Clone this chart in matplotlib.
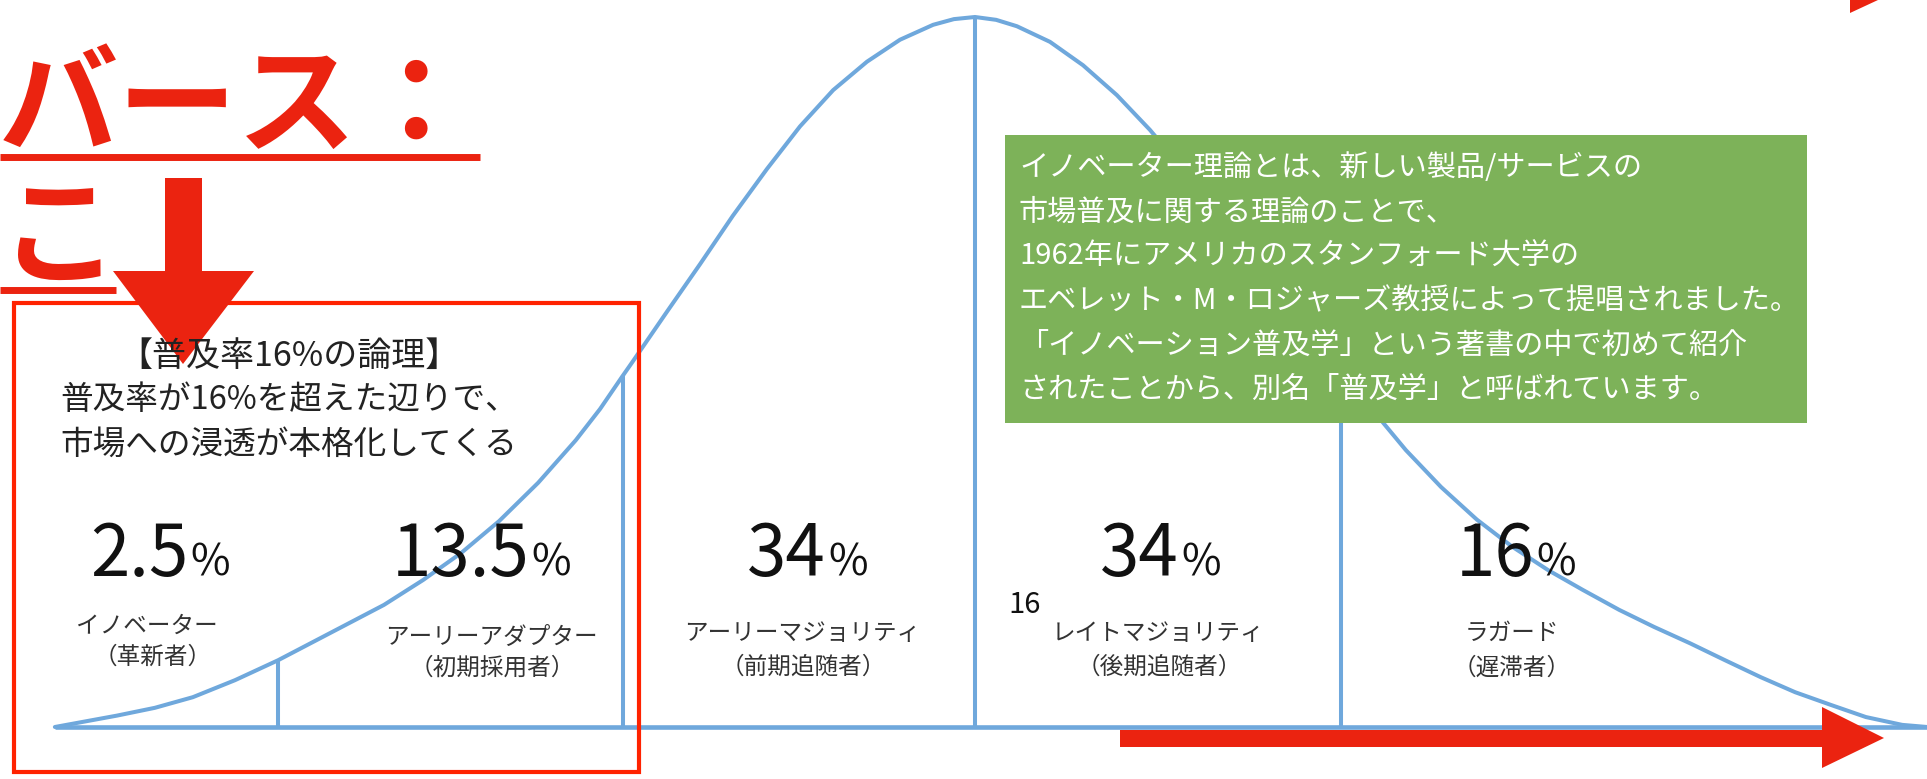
import numpy as np
import matplotlib.pyplot as plt
from matplotlib.patches import Rectangle, Polygon

plt.rcParams['font.family'] = ['Noto Sans CJK JP', 'DejaVu Sans']

# bell curve: x in standard deviations, y relative to the peak
curve_z = [-2.614, -2.438, -2.330, -2.222, -2.102, -1.980, -1.787, -1.679, -1.568, -1.460,
           -1.352, -1.241, -1.134, -1.065, -1.003, -0.972, -0.875, -0.781, -0.688, -0.591,
           -0.497, -0.403, -0.307, -0.213, -0.119, -0.060, 0.0, 0.060, 0.119, 0.213,
           0.307, 0.403, 0.497, 0.639, 0.810, 0.980, 1.162, 1.224, 1.324, 1.426,
           1.526, 1.628, 1.727, 1.830, 1.929, 2.031, 2.131, 2.233, 2.330, 2.432,
           2.531, 2.634, 2.705]
curve_h = [0.0, 0.016, 0.027, 0.042, 0.066, 0.094, 0.144, 0.172, 0.207, 0.245,
           0.290, 0.344, 0.404, 0.448, 0.493, 0.515, 0.585, 0.652, 0.720, 0.786,
           0.846, 0.897, 0.937, 0.968, 0.989, 0.997, 1.0, 0.996, 0.987, 0.965,
           0.932, 0.890, 0.841, 0.758, 0.649, 0.539, 0.427, 0.390, 0.338, 0.292,
           0.254, 0.221, 0.193, 0.165, 0.141, 0.118, 0.094, 0.070, 0.049, 0.031,
           0.014, 0.003, 0.0]

# segment boundaries (in sd)
boundary_z = [-1.98, -1.0, 0.0, 1.04]

shares = ['2.5', '13.5', '34', '34', '16']
names = ['イノベーター', 'アーリーアダプター', 'アーリーマジョリティ', 'レイトマジョリティ', 'ラガード']
roles = ['（革新者）', '（初期採用者）', '（前期追随者）', '（後期追随者）', '（遅滞者）']

box_title = '【普及率16%の論理】'
box_lines = ['普及率が16%を超えた辺りで、', '市場への浸透が本格化してくる']

note_lines = ['イノベーター理論とは、新しい製品/サービスの',
              '市場普及に関する理論のことで、',
              '1962年にアメリカのスタンフォード大学の',
              'エベレット・M・ロジャーズ教授によって提唱されました。',
              '「イノベーション普及学」という著書の中で初めて紹介',
              'されたことから、別名「普及学」と呼ばれています。']

BLUE = '#6FA8DC'
RED = '#EB2310'
GREEN = '#7DB259'

W, H = 1927, 779
fig = plt.figure(figsize=(W / 100, H / 100), dpi=100)

# main axes: curve in sd units
ax = fig.add_axes([0, 0, 1, 1])
mean_px, sd_px, base_px, peak_px = 975, 352, 727, 710
ax.set_xlim(-mean_px / sd_px, (W - mean_px) / sd_px)
ax.set_ylim((base_px - H) / peak_px, base_px / peak_px)
ax.axis('off')

ax.plot(curve_z, curve_h, color=BLUE, lw=2.9, solid_joinstyle='round', solid_capstyle='round')
ax.hlines(0, curve_z[0], curve_z[-1], color=BLUE, lw=3.3)
tops = np.interp(boundary_z, curve_z, curve_h)
ax.vlines(boundary_z, 0, tops, color=BLUE, lw=2.9)

# overlay in pixel units for the annotations
ax2 = fig.add_axes([0, 0, 1, 1])
ax2.set_xlim(0, W)
ax2.set_ylim(H, 0)
ax2.axis('off')
ax2.patch.set_alpha(0)

# cut-off red heading
ax2.text(-1, 109, 'バース：', color=RED, fontsize=86, fontweight='bold', ha='left', va='center')
ax2.plot([0, 480], [157, 157], color=RED, lw=5, solid_capstyle='butt')
ax2.text(0, 241, 'こ', color=RED, fontsize=86, fontweight='bold', ha='left', va='center')
ax2.plot([0, 116], [290, 290], color=RED, lw=5, solid_capstyle='butt')

# red box
ax2.add_patch(Rectangle((14, 303), 625, 469, fill=False, ec='#FF2200', lw=3))
ax2.add_patch(Polygon([(165, 178), (202, 178), (202, 271), (254, 271), (183, 364),
                       (113, 271), (165, 271)], closed=True, fc=RED, ec='none'))

ax2.text(289, 356, box_title, fontsize=24.5, color='#222222', ha='center', va='center')
for i, s in enumerate(box_lines):
    ax2.text(289, 400 + 45 * i, s, fontsize=23.5, color='#222222', ha='center', va='center')

# percentages and labels
num_x = [188, 529, 826, 1179, 1534]
name_x = [147, 491, 802, 1158, 1512]
name_y = [626, 637, 634, 634, 633]
role_x = [153, 492, 803, 1159, 1512]
role_y = [657, 668, 667, 667, 668]
for i in range(len(shares)):
    ax2.text(num_x[i], 576, shares[i], fontsize=51, color='#111111', ha='right', va='baseline')
    ax2.text(num_x[i] + 2, 576, '%', fontsize=31, color='#111111', ha='left', va='baseline')
    ax2.text(name_x[i], name_y[i], names[i], fontsize=17, color='#333333', ha='center', va='center')
    ax2.text(role_x[i], role_y[i], roles[i], fontsize=17, color='#333333', ha='center', va='center')

ax2.text(1025, 605, '16', fontsize=21, color='#111111', ha='center', va='center')

# green note
ax2.add_patch(Rectangle((1005, 135), 802, 288, fc=GREEN, ec='none'))
for i, s in enumerate(note_lines):
    ax2.text(1019, 168 + 44.4 * i, s, fontsize=21, color='white', ha='left', va='center')

# red arrows
ax2.add_patch(Polygon([(1120, 730), (1822, 730), (1822, 707), (1884, 738), (1822, 768),
                       (1822, 747), (1120, 747)], closed=True, fc=RED, ec='none'))
ax2.add_patch(Polygon([(1850, 0), (1850, 13), (1878, 0)], closed=True, fc=RED, ec='none'))

fig.savefig('out.png', dpi=100)
